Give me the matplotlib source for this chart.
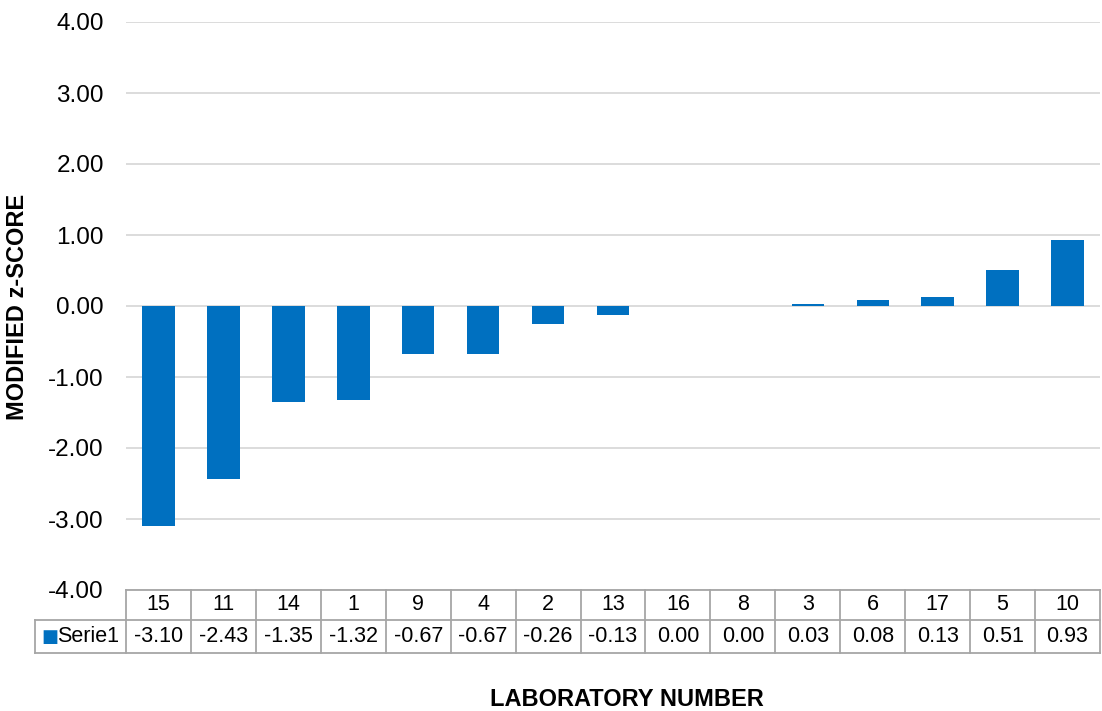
import matplotlib
matplotlib.use("Agg")
import matplotlib.pyplot as plt
import matplotlib.transforms as mtransforms
import numpy as np

# data
labs = ["15", "11", "14", "1", "9", "4", "2", "13", "16", "8", "3", "6", "17", "5", "10"]
zscores = [-3.10, -2.43, -1.35, -1.32, -0.67, -0.67, -0.26, -0.13, 0.00, 0.00, 0.03, 0.08, 0.13, 0.51, 0.93]
series_name = "Serie1"
yticks = [-4, -3, -2, -1, 0, 1, 2, 3, 4]

bar_color = "#0070C0"
grid_color = "#d9d9d9"
table_color = "#a6a6a6"

plt.rcParams['font.family'] = ['Liberation Sans', 'DejaVu Sans']

fig = plt.figure(figsize=(11.02, 7.11), dpi=100)
ax = fig.add_axes([126/1102, 1 - 590/711, 974/1102, 568/711])

x = np.arange(len(labs))
ax.bar(x, zscores, width=0.5, color=bar_color, zorder=3)

ax.set_xlim(-0.5, len(labs) - 0.5)
ax.set_ylim(-4, 4)
ax.set_yticks(yticks)
ax.set_yticklabels(["%.2f" % v for v in yticks], fontsize=17.5)
ax.tick_params(axis='y', length=0, pad=16)
ax.set_xticks([])
for v in yticks:
    ax.axhline(v, color=grid_color, lw=1.3, zorder=1)
for s in ax.spines.values():
    s.set_visible(False)

# data table below the axes
trans = mtransforms.blended_transform_factory(ax.transData, ax.transAxes)
r1 = -30/568
r2 = -63/568
leg_x = (35 - 126)/974
kw = dict(color=table_color, lw=1.3, clip_on=False)
ax.plot([-0.5, len(labs) - 0.5], [0, 0], transform=trans, **kw)
ax.plot([leg_x, 1], [r1, r1], transform=ax.transAxes, **kw)
ax.plot([leg_x, 1], [r2, r2], transform=ax.transAxes, **kw)
ax.plot([leg_x, leg_x], [r1, r2], transform=ax.transAxes, **kw)
for i in range(len(labs) + 1):
    ax.plot([i - 0.5, i - 0.5], [0, r2], transform=trans, **kw)
for i, (lab, v) in enumerate(zip(labs, zscores)):
    ax.text(i, r1/2, lab, transform=trans, ha='center', va='center', fontsize=15.5)
    ax.text(i, (r1 + r2)/2, "%.2f" % v, transform=trans, ha='center', va='center', fontsize=15.5)
# legend key in table
ax.text(leg_x + 0.007, (r1 + r2)/2, "\u25A0", transform=ax.transAxes, ha='left', va='center',
        fontsize=13, color=bar_color, family='DejaVu Sans')
ax.text(leg_x + 0.0225, (r1 + r2)/2, series_name, transform=ax.transAxes, ha='left', va='center', fontsize=15.5)

fig.text(627/1102, 1 - 699/711, "LABORATORY NUMBER", ha='center', va='center', fontsize=17, fontweight='bold')
fig.text(18/1102, 1 - 307/711, "MODIFIED z-SCORE", ha='center', va='center', rotation=90,
         fontsize=17, fontweight='bold')

fig.savefig("out.png", dpi=100)
